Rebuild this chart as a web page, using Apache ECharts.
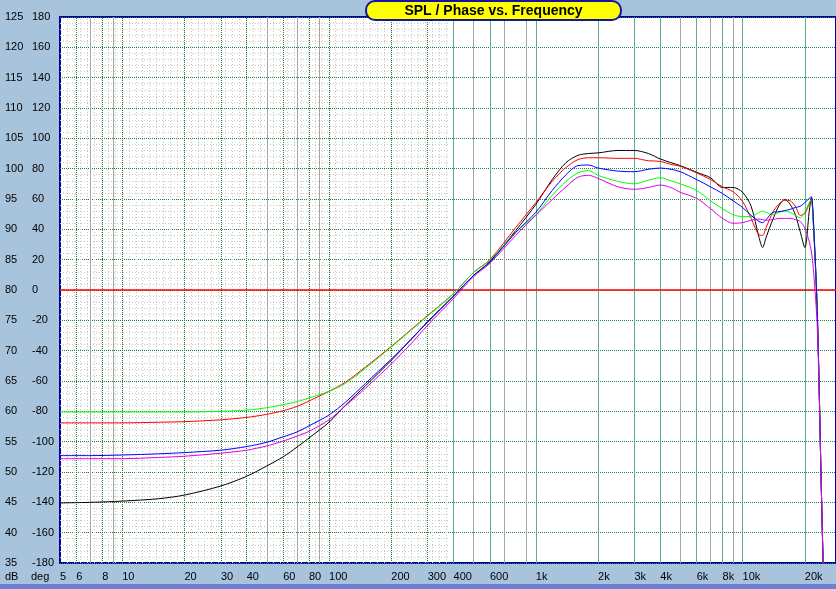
<!DOCTYPE html>
<html><head><meta charset="utf-8">
<script src="https://cdn.jsdelivr.net/npm/echarts@6/dist/echarts.min.js"></script>
<style>html,body{margin:0;padding:0;background:#a8c4dc;}#c{width:836px;height:589px;}</style>
</head><body><div id="c"></div>
<script>
// Frequencies (Hz) at which the curves were read
const freqs = [5,7,10,15,20,30,40,50,60,70,80,100,120,150,200,250,300,400,500,600,800,1000,1200,1400,1600,1800,2000,2500,3000,3500,4000,4500,5000,6000,7000,8000,9000,10000,11000,12000,12500,13000,14000,15000,16000,17000,18000,19000,20000,21000,21500,22000,23000,24000,25000];
// SPL (dB) per curve
const splBlack = [44.9,45.0,45.2,45.6,46.2,47.7,49.3,51.0,52.5,54.1,55.6,58.2,61.0,64.2,68.4,71.9,74.8,79.0,82.4,84.7,89.8,94.1,98.2,101.0,102.2,102.5,102.6,103.0,103.0,102.5,101.6,101.0,100.5,99.4,98.5,96.9,96.9,96.1,93.8,88.7,87.0,88.7,91.6,93.9,94.9,94.1,92.4,89.6,87.0,92.9,95.2,90.8,75.8,48.2,22.7];
const splRed = [58.1,58.1,58.1,58.2,58.3,58.6,59.0,59.5,60.1,60.8,61.7,63.3,64.8,67.3,70.7,73.5,75.8,79.4,82.9,85.0,90.3,94.4,97.9,100.2,101.5,101.8,101.8,101.7,101.7,101.3,101.2,100.7,100.4,99.3,98.2,97.0,96.2,94.6,91.8,89.1,89.0,90.3,92.8,94.2,94.8,94.7,93.8,92.3,92.6,94.2,94.8,91.3,75.8,48.2,22.7];
const splGreen = [59.9,59.9,59.9,59.9,59.9,60.0,60.2,60.6,61.1,61.6,62.2,63.3,64.6,67.1,70.6,73.4,75.7,79.4,82.9,84.9,89.5,92.4,95.6,97.9,99.3,99.7,98.9,97.9,97.5,98.1,98.5,98.0,97.5,96.4,94.7,93.4,92.4,92.1,92.1,92.8,93.0,92.8,92.4,92.8,93.0,92.8,92.3,91.9,92.9,94.4,94.9,91.3,75.8,48.2,22.7];
const splBlue = [52.7,52.7,52.8,53.0,53.2,53.6,54.2,54.9,55.8,56.6,57.6,59.4,61.5,64.6,68.6,71.9,74.7,79.0,82.4,84.6,89.5,92.8,96.4,99.0,100.5,100.6,100.1,99.6,99.5,99.9,100.1,99.9,99.5,98.2,97.0,95.9,94.7,93.6,92.3,91.3,91.1,91.6,92.8,92.9,93.1,93.3,93.6,93.8,94.4,95.1,95.4,91.6,75.8,48.2,22.7];
const splMagenta = [52.2,52.2,52.2,52.4,52.6,53.1,53.6,54.3,55.1,55.9,56.7,58.6,60.9,63.8,67.8,71.2,74.2,78.6,82.2,84.4,89.0,92.3,94.9,97.0,98.6,98.9,98.4,97.0,96.6,96.9,97.3,96.9,96.1,95.1,93.4,91.8,91.0,91.1,91.5,91.7,91.6,91.5,91.6,91.8,91.8,91.8,91.6,91.3,90.2,88.0,86.4,83.4,73.5,48.2,22.7];
// Axis tick labels
const xTickLabels = [5,6,8,10,20,30,40,60,80,100,200,300,400,600,1000,2000,3000,4000,6000,8000,10000,20000];
const xGridUnlabeled = [7,9,50,70,90,500,700,900,5000,7000,9000];
const dbRange = [35,125,5];
const degRange = [-180,180,20];
const title = 'SPL / Phase vs. Frequency';

const FONT = 'Liberation Sans';
const fineEnd = 385;
const xMax = 28300;

const toPairs = arr => freqs.map((f,i)=>[f,arr[i]]);

// fine dotted texture in the low-frequency region
const fineLines = [];
for (let v = dbRange[0]+1; v < dbRange[1]; v++) {
  if (v % 5 !== 0) fineLines.push([{coord:[5,v]},{coord:[fineEnd,v]}]);
}
for (let k = 1; ; k++) {
  const f = 5 * Math.pow(10, k/30);
  if (f >= fineEnd) break;
  fineLines.push([{coord:[f,dbRange[0]]},{coord:[f,dbRange[1]]}]);
}
const labeledLeft = xTickLabels.filter(f => f > 5 && f < fineEnd).map(f => ({xAxis:f}));
const labeledRight = xTickLabels.filter(f => f >= fineEnd).map(f => ({xAxis:f}));
const unlabeled = xGridUnlabeled.map(f => ({xAxis:f}));

function gridSeries(name, data, lineStyle) {
  return {
    name, type:'line', data:[[5,35]], symbol:'none', silent:true, z:1,
    lineStyle:{opacity:0},
    markLine:{silent:true, symbol:['none','none'], label:{show:false}, animation:false,
      lineStyle: Object.assign({width:1}, lineStyle), emphasis:{disabled:true}, data}
  };
}
function curve(name, arr, color) {
  return {name, type:'line', data: toPairs(arr), showSymbol:false, symbol:'none', smooth:0.3,
    lineStyle:{color, width:1}, itemStyle:{color}, z:5, clip:true, silent:true};
}

const chart = echarts.init(document.getElementById('c'), null, {renderer:'canvas'});
chart.setOption({
  animation:false,
  backgroundColor:'#a8c4dc',
  grid:{left:60, top:17, right:-2, bottom:26, show:true, backgroundColor:'#ffffff', borderColor:'#0000a0', borderWidth:2},
  xAxis:{type:'log', logBase:10, min:5, max:xMax,
    axisLine:{show:false}, axisTick:{show:false}, splitLine:{show:false}, minorSplitLine:{show:false},
    axisLabel:{customValues:xTickLabels, align:'left', margin:8, fontSize:11, fontFamily:FONT, color:'#000',
      formatter: v => v >= 1000 ? (v/1000)+'k' : String(v)}},
  yAxis:[
    {type:'value', min:dbRange[0], max:dbRange[1], interval:dbRange[2], position:'left',
      axisLine:{show:false}, axisTick:{show:false},
      splitLine:{show:true, lineStyle:{color:'#1f7f3a', type:[1,1], width:1}},
      axisLabel:{align:'left', margin:55, fontSize:11, fontFamily:FONT, color:'#000'}},
    {type:'value', min:degRange[0], max:degRange[1], interval:degRange[2], position:'left',
      axisLine:{show:false}, axisTick:{show:false}, splitLine:{show:false},
      axisLabel:{align:'left', margin:28, fontSize:11, fontFamily:FONT, color:'#000'}}
  ],
  series:[
    gridSeries('fine', fineLines, {color:'#c6c6c6', type:[1,2]}),
    gridSeries('unlabeled', unlabeled, {color:'#a6a6a6', type:'solid'}),
    gridSeries('labeledLeft', labeledLeft, {color:'#1f7f3a', type:[1,1]}),
    gridSeries('labeledRight', labeledRight, {color:'#5cae8c', type:'solid'}),
    {name:'zero', type:'line', yAxisIndex:1, data:[[5,0]], symbol:'none', lineStyle:{opacity:0}, z:3, silent:true,
      markLine:{silent:true, symbol:['none','none'], label:{show:false}, animation:false,
        lineStyle:{color:'#ff0000', width:1.5, type:'solid'}, data:[{yAxis:0}]}},
    curve('black', splBlack, '#000000'),
    curve('red', splRed, '#ff0000'),
    curve('green', splGreen, '#00ff00'),
    curve('blue', splBlue, '#0000ff'),
    curve('magenta', splMagenta, '#e000e0')
  ],
  graphic:[
    {type:'rect', left:0, top:584, shape:{width:836, height:5}, style:{fill:'#6f7fd0'}, z:10},
    {type:'text', left:5, top:571, style:{text:'dB', font:'11px '+FONT, fill:'#000'}, z:10},
    {type:'text', left:31, top:571, style:{text:'deg', font:'11px '+FONT, fill:'#000'}, z:10},
    {type:'rect', shape:{x:366, y:1, width:255, height:19, r:9}, style:{fill:'#ffff00', stroke:'#14149c', lineWidth:2}, z:20},
    {type:'text', x:493.5, y:11, style:{text:title, font:'bold 14px '+FONT, fill:'#000', align:'center', verticalAlign:'middle'}, z:21}
  ]
});
</script></body></html>
